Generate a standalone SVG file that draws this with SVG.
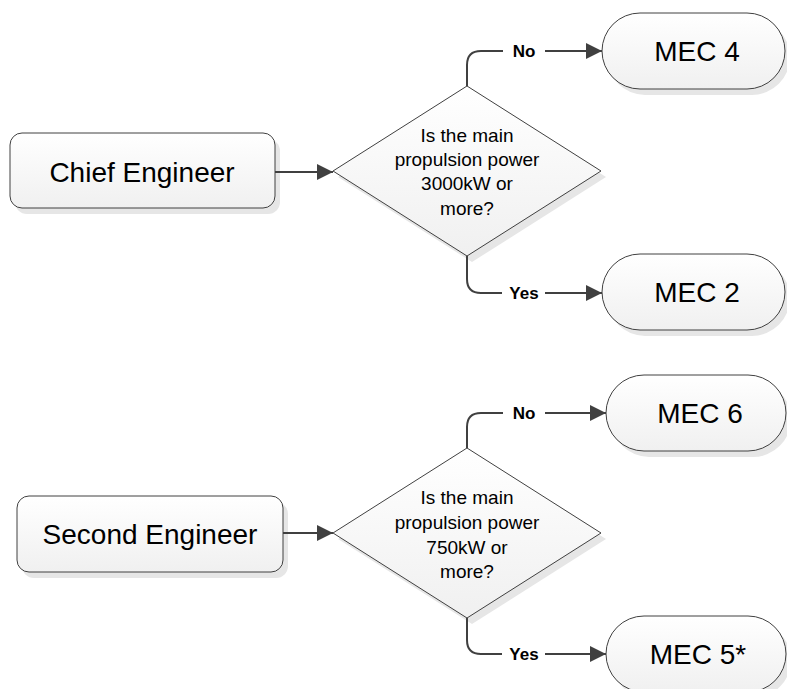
<svg xmlns="http://www.w3.org/2000/svg" width="787" height="689" viewBox="0 0 787 689">
<defs>
<linearGradient id="g" x1="0" y1="0" x2="0" y2="1"><stop offset="0" stop-color="#ffffff"/><stop offset="1" stop-color="#f0f0f0"/></linearGradient>
<marker id="ah" markerUnits="userSpaceOnUse" markerWidth="17" markerHeight="16" refX="16" refY="8" orient="auto"><path d="M0,0 L16,8 L0,16 z" fill="#404040"/></marker>
</defs>
<style>
.shape{fill:url(#g);stroke:#404040;stroke-width:1}
.shadow{fill:#e6e6e6;stroke:none}
.big{font-family:"Liberation Sans",Arial,sans-serif;font-size:28px;fill:#000;text-anchor:middle}
.q{font-family:"Liberation Sans",Arial,sans-serif;font-size:19px;fill:#000;text-anchor:middle}
.lbl{font-family:"Liberation Sans",Arial,sans-serif;font-size:17px;font-weight:bold;fill:#000;text-anchor:middle}
.c{fill:none;stroke:#404040;stroke-width:2}
</style>
<rect width="787" height="689" fill="#fff"/>
<g id="chief">
<rect class="shadow" x="15" y="139" width="265" height="75" rx="12"/>
<rect class="shape" x="10" y="133" width="265" height="75" rx="12"/>
<text class="big" x="142" y="182">Chief Engineer</text>
</g>
<g id="q1">
<polygon class="shadow" points="472,92 606,177 472,262 338,177"/>
<polygon class="shape" points="467,86 601,171 467,256 333,171"/>
<text class="q" x="467" y="142">Is the main</text>
<text class="q" x="467" y="166">propulsion power</text>
<text class="q" x="467" y="190">3000kW or</text>
<text class="q" x="467" y="215">more?</text>
</g>
<g id="mec4">
<rect class="shadow" x="607" y="19" width="183" height="76" rx="38"/>
<rect class="shape" x="602" y="13" width="183" height="76" rx="38"/>
<text class="big" x="697" y="61">MEC 4</text>
</g>
<g id="mec2">
<rect class="shadow" x="607" y="260" width="183" height="76" rx="38"/>
<rect class="shape" x="602" y="254" width="183" height="76" rx="38"/>
<text class="big" x="697" y="302">MEC 2</text>
</g>
<g id="second">
<rect class="shadow" x="22" y="502" width="266" height="76" rx="12"/>
<rect class="shape" x="17" y="496" width="266" height="76" rx="12"/>
<text class="big" x="150" y="544">Second Engineer</text>
</g>
<g id="q2">
<polygon class="shadow" points="472,454 606,539 472,624 338,539"/>
<polygon class="shape" points="467,448 601,533 467,618 333,533"/>
<text class="q" x="467" y="504">Is the main</text>
<text class="q" x="467" y="529">propulsion power</text>
<text class="q" x="467" y="554">750kW or</text>
<text class="q" x="467" y="578">more?</text>
</g>
<g id="mec6">
<rect class="shadow" x="611" y="381" width="180" height="76" rx="38"/>
<rect class="shape" x="606" y="375" width="180" height="76" rx="38"/>
<text class="big" x="700" y="423">MEC 6</text>
</g>
<g id="mec5">
<rect class="shadow" x="611" y="622" width="180" height="76" rx="38"/>
<rect class="shape" x="606" y="616" width="180" height="76" rx="38"/>
<text class="big" x="698" y="664">MEC 5*</text>
</g>
<g id="connectors">
<path class="c" d="M275,172 H333" marker-end="url(#ah)"/>
<path class="c" d="M467,86 V65 Q467,51 481,51 H503"/>
<path class="c" d="M545,51 H602" marker-end="url(#ah)"/>
<text class="lbl" x="524" y="57">No</text>
<path class="c" d="M467,256 V279 Q467,293 481,293 H502"/>
<path class="c" d="M545,293 H602" marker-end="url(#ah)"/>
<text class="lbl" x="524" y="299">Yes</text>
<path class="c" d="M283,533 H333" marker-end="url(#ah)"/>
<path class="c" d="M467,448 V427 Q467,413 481,413 H503"/>
<path class="c" d="M545,413 H606" marker-end="url(#ah)"/>
<text class="lbl" x="524" y="419">No</text>
<path class="c" d="M467,618 V640 Q467,654 481,654 H502"/>
<path class="c" d="M545,654 H606" marker-end="url(#ah)"/>
<text class="lbl" x="524" y="660">Yes</text>
</g>
</svg>
